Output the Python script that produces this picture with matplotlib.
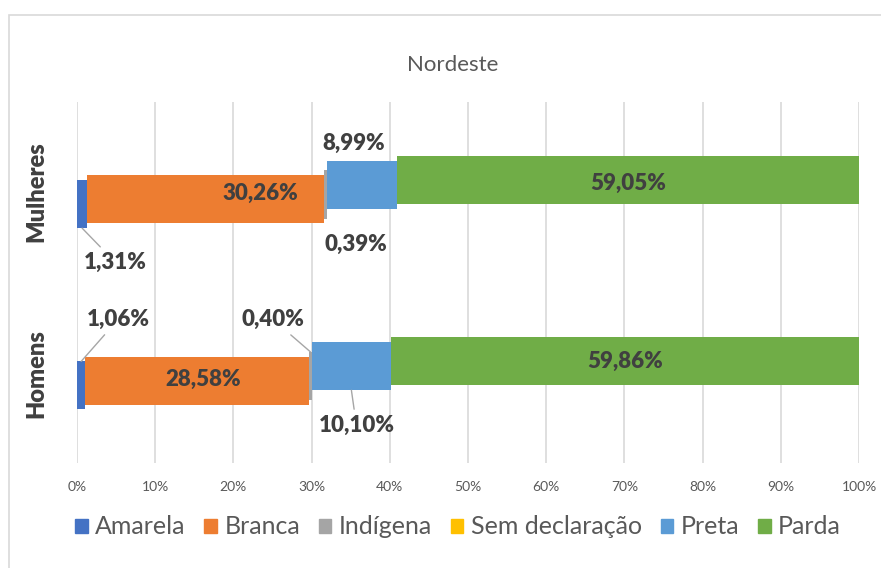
import numpy as np
import matplotlib
matplotlib.use("Agg")
import matplotlib.pyplot as plt
from matplotlib.patches import Rectangle, Patch

# dados (percentuais)
categorias = ["Homens", "Mulheres"]
series = ["Amarela", "Branca", "Indígena", "Sem declaração", "Preta", "Parda"]
homens = [1.06, 28.58, 0.40, 0.00, 10.10, 59.86]
mulheres = [1.31, 30.26, 0.39, 0.00, 8.99, 59.05]
cores = ["#4472C4", "#ED7D31", "#A5A5A5", "#FFC000", "#5B9BD5", "#70AD47"]
ticks = np.arange(0, 101, 10)
tick_labels = [f"{t}%" for t in ticks]

plt.rcParams['font.family'] = ['Lato', 'DejaVu Sans']

W, H = 881, 568
fig = plt.figure(figsize=(W / 100, H / 100), dpi=100)

# borda da área do gráfico
fig.patches.append(Rectangle((9 / W, -0.05), 1.0, 1.05 - 15 / H, transform=fig.transFigure,
                             fill=False, edgecolor="#d9d9d9", lw=1.2))

ax = fig.add_axes([77 / W, (H - 463) / H, (859 - 77) / W, (463 - 102) / H])
ax.set_xlim(0, 100)
ax.set_ylim(-0.494, 1.497)

altura = 0.265
passo = 0.0265
valores = np.array([homens, mulheres])

for i, nome in enumerate(series):
    desloc = (i - 2.5) * passo
    esq = valores[:, :i].sum(axis=1)
    ax.barh(np.arange(2) + desloc, valores[:, i], left=esq, height=altura,
            color=cores[i], zorder=3, label=nome)

ax.set_xticks(ticks)
ax.set_xticklabels(tick_labels, fontsize=10, color="#595959")
ax.tick_params(axis='x', length=0, pad=13)
ax.set_yticks([])
ax.grid(axis='x', color="#d9d9d9", lw=1.2, zorder=0)
for s in ax.spines.values():
    s.set_visible(False)

for j, cat in enumerate(categorias):
    ax.text(-0.052, j, cat, transform=ax.get_yaxis_transform(), rotation=90,
            ha='center', va='center', fontsize=17, fontweight='heavy', color="#404040")

# rótulos: (categoria, série, âncora, deslocamento em px, linha guia)
rotulos = [
    (1, 0, 'bottom', (33, -34), True),
    (1, 1, 'center', (55, 6), False),
    (1, 2, 'center', (30, -50), False),
    (1, 4, 'center', (-8, 42), False),
    (1, 5, 'center', (0, -3), False),
    (0, 0, 'top', (37, 42), True),
    (0, 1, 'center', (6, 1), False),
    (0, 2, 'top', (-37, 32), True),
    (0, 4, 'bottom', (5, -35), True),
    (0, 5, 'center', (0, 0), False),
]
for j, i, ancora, (dx, dy), guia in rotulos:
    v = valores[j, i]
    x = valores[j, :i].sum() + v / 2
    y = j + (i - 2.5) * passo
    if ancora == 'top':
        y += altura / 2
    elif ancora == 'bottom':
        y -= altura / 2
    txt = f"{v:.2f}%".replace(".", ",")
    ap = dict(arrowstyle='-', color="#a6a6a6", lw=1, shrinkA=2, shrinkB=0) if guia else None
    ax.annotate(txt, xy=(x, y), xytext=(dx, dy), textcoords='offset pixels',
                ha='center', va='center', fontsize=16, fontweight='heavy',
                color="#404040", arrowprops=ap, zorder=5)

fig.text(453 / W, 1 - 65 / H, "Nordeste", ha='center', va='center',
         fontsize=16, color="#595959")

handles = [Patch(color=c) for c in cores]
fig.legend(handles, series, loc='center', bbox_to_anchor=(458 / W, 1 - 527 / H), ncol=6,
           frameon=False, fontsize=18, labelcolor="#595959", handlelength=0.5,
           handleheight=0.5, handletextpad=0.3, columnspacing=0.75)

fig.savefig("out.png", dpi=100)
